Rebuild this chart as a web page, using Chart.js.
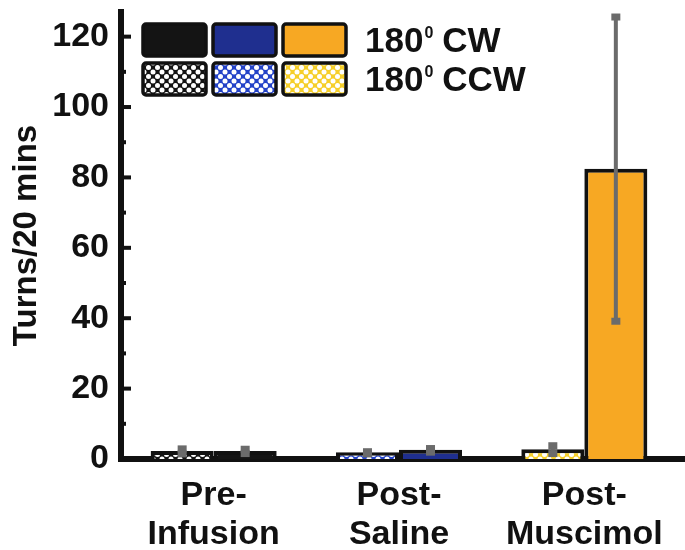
<!DOCTYPE html>
<html>
<head>
<meta charset="utf-8">
<script src="https://cdn.jsdelivr.net/npm/chart.js@4"></script>
<style>
  html, body { margin: 0; padding: 0; background: #fff; }
  #wrap { width: 685px; height: 550px; }
</style>
</head>
<body>
<div id="wrap"><canvas id="turns"></canvas></div>
<script>
// groups and values (turns per 20 min, mean and error)
const groups = [['Pre-', 'Infusion'], ['Post-', 'Saline'], ['Post-', 'Muscimol']];
const ccwTurns = [2.3, 1.9, 2.8];
const ccwErr = [1.0, 0.6, 1.4];
const cwTurns = [2.3, 2.6, 82.5];
const cwErr = [0.9, 0.8, 43.5];
const yTicks = [0, 20, 40, 60, 80, 100, 120];

const solidColors = ['#141414', '#1f2f8f', '#f7a823'];
const hatchColors = ['#141414', '#2443c8', '#f6cf2a'];
const FONT = "'Liberation Sans', Arial, sans-serif";

// cross hatch: coloured lattice with white holes
function hatch(color) {
  const c = document.createElement('canvas');
  c.width = 9; c.height = 9;
  const g = c.getContext('2d');
  g.fillStyle = color;
  g.fillRect(0, 0, 9, 9);
  g.fillStyle = '#fff';
  const holes = [[4.5, 4.5], [0, 0], [9, 0], [0, 9], [9, 9]];
  holes.forEach(([x, y]) => {
    g.beginPath();
    g.arc(x, y, 2.5, 0, Math.PI * 2);
    g.fill();
  });
  return g.createPattern(c, 'repeat');
}
const hatchFills = hatchColors.map(hatch);

// error bars drawn on top of each bar
const errorBars = {
  id: 'errorBars',
  afterDatasetsDraw(chart) {
    const ctx = chart.ctx;
    const y = chart.scales.y;
    const errs = [ccwErr, cwErr];
    ctx.save();
    chart.data.datasets.forEach((ds, i) => {
      chart.getDatasetMeta(i).data.forEach((bar, j) => {
        const v = ds.data[j], e = errs[i][j];
        const top = y.getPixelForValue(v + e);
        const bot = y.getPixelForValue(Math.max(v - e, 0));
        ctx.strokeStyle = '#6b6b6b';
        ctx.fillStyle = '#6b6b6b';
        ctx.lineWidth = 4;
        ctx.beginPath();
        ctx.moveTo(bar.x, top);
        ctx.lineTo(bar.x, bot);
        ctx.stroke();
        ctx.fillRect(bar.x - 4.5, top - 2, 9, 7);
        if (v - e > 0.5) ctx.fillRect(bar.x - 4.5, bot - 4, 9, 7);
      });
    });
    ctx.restore();
  }
};

// inward ticks on the y axis, axis line extension, and the legend
const extras = {
  id: 'extras',
  afterDraw(chart) {
    const ctx = chart.ctx;
    const y = chart.scales.y;
    const area = chart.chartArea;
    ctx.save();
    ctx.fillStyle = '#111';
    for (let v = 0; v <= 120; v += 10) {
      const py = y.getPixelForValue(v);
      const major = v % 20 === 0;
      ctx.fillRect(area.left, py - 2, major ? 10 : 5, 4);
    }
    // bottom axis runs to the edge
    ctx.fillRect(area.right - 2, area.bottom - 3, chart.width - area.right + 2, 6);

    // legend swatches
    const cols = [143, 213, 283];
    const rows = [24, 63];
    const w = 63, h = 32;
    rows.forEach((ry, r) => {
      cols.forEach((cx, k) => {
        ctx.beginPath();
        ctx.roundRect(cx, ry, w, h, 3);
        ctx.fillStyle = r === 0 ? solidColors[k] : hatchFills[k];
        ctx.fill();
        ctx.lineWidth = 3.5;
        ctx.strokeStyle = '#111';
        ctx.stroke();
      });
    });
    const names = ['CW', 'CCW'];
    ctx.fillStyle = '#111';
    ctx.textBaseline = 'alphabetic';
    rows.forEach((ry, r) => {
      const base = ry + h / 2 + 12;
      let x = 365;
      ctx.font = 'bold 35px ' + FONT;
      ctx.fillText('180', x, base);
      x += ctx.measureText('180').width + 1;
      ctx.font = 'bold 16px ' + FONT;
      ctx.fillText('0', x, base - 14);
      x += ctx.measureText('0').width + 9;
      ctx.font = 'bold 35px ' + FONT;
      ctx.fillText(names[r], x, base);
    });
    ctx.restore();
  }
};

new Chart(document.getElementById('turns'), {
  type: 'bar',
  data: {
    labels: groups,
    datasets: [
      { label: '180 CCW', data: ccwTurns, backgroundColor: hatchFills,
        borderColor: '#111', borderWidth: 4 },
      { label: '180 CW', data: cwTurns, backgroundColor: solidColors,
        borderColor: '#111', borderWidth: 4 }
    ]
  },
  options: {
    responsive: true,
    maintainAspectRatio: false,
    animation: false,
    layout: { padding: { left: 0, right: 8, top: 12, bottom: 0 } },
    datasets: { bar: { categoryPercentage: 0.68, barPercentage: 1 } },
    plugins: { legend: { display: false }, tooltip: { enabled: false } },
    scales: {
      x: {
        grid: { display: false, drawTicks: false },
        border: { color: '#111', width: 6 },
        ticks: { color: '#111', padding: 17, maxRotation: 0,
          font: { family: FONT, size: 34, weight: 'bold', lineHeight: 1.15 } },
        afterFit(s) { s.height = 91; s.paddingLeft = 0; s.paddingRight = 0; }
      },
      y: {
        min: 0, max: 127,
        grid: { display: false, drawTicks: false },
        border: { color: '#111', width: 6 },
        afterBuildTicks(s) { s.ticks = yTicks.map(v => ({ value: v })); },
        ticks: { color: '#111', padding: 12, includeBounds: false,
          font: { family: FONT, size: 34, weight: 'bold' } },
        title: { display: true, text: 'Turns/20 mins', color: '#111',
          padding: { top: 7, bottom: 0 },
          font: { family: FONT, size: 33, weight: 'bold' } },
        afterFit(s) { s.width = 121; s.paddingTop = 0; s.paddingBottom = 0; }
      }
    }
  },
  plugins: [errorBars, extras]
});
</script>
</body>
</html>
